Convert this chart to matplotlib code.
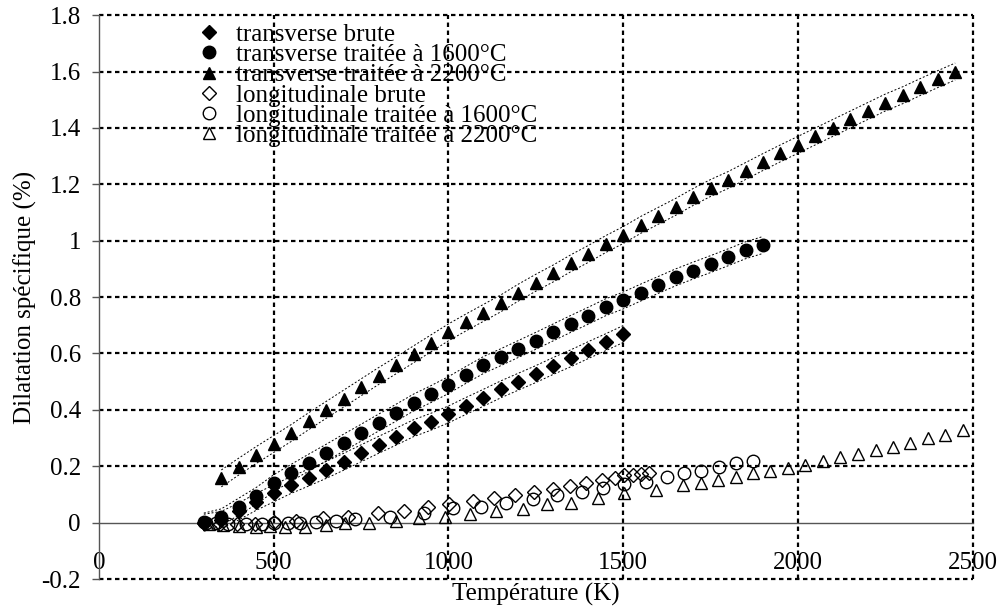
import matplotlib
matplotlib.use("Agg")
import matplotlib.pyplot as plt
import numpy as np

plt.rcParams['font.family'] = ['Liberation Serif', 'DejaVu Serif']

# --- data ---
# transverse, filled markers
tr_brute_T = [300, 350, 400, 450, 500, 550, 600, 650, 700, 750, 800, 850, 900,
              950, 1000, 1050, 1100, 1150, 1200, 1250, 1300, 1350, 1400, 1450, 1500]
tr_brute_y = [0.0, 0.01, 0.04, 0.074, 0.104, 0.134, 0.16, 0.187, 0.216, 0.246,
              0.276, 0.305, 0.335, 0.358, 0.384, 0.414, 0.443, 0.473, 0.5, 0.527,
              0.556, 0.583, 0.612, 0.64, 0.669]

tr_1600_T = [300, 350, 400, 450, 500, 550, 600, 650, 700, 750, 800, 850, 900,
             950, 1000, 1050, 1100, 1150, 1200, 1250, 1300, 1350, 1400, 1450,
             1500, 1550, 1600, 1650, 1700, 1750, 1800, 1850, 1900]
tr_1600_y = [0.004, 0.019, 0.057, 0.095, 0.14, 0.177, 0.213, 0.248, 0.284, 0.319,
             0.355, 0.39, 0.426, 0.456, 0.488, 0.524, 0.559, 0.587, 0.616, 0.645,
             0.675, 0.705, 0.734, 0.764, 0.788, 0.816, 0.843, 0.87, 0.894, 0.917,
             0.941, 0.966, 0.985]

tr_2200_T = [350, 400, 450, 500, 550, 600, 650, 700, 750, 800, 850, 900, 950,
             1000, 1050, 1100, 1150, 1200, 1250, 1300, 1350, 1400, 1450, 1500,
             1550, 1600, 1650, 1700, 1750, 1800, 1850, 1900, 1950, 2000, 2050,
             2100, 2150, 2200, 2250, 2300, 2350, 2400, 2450]
tr_2200_y = [0.157, 0.199, 0.24, 0.279, 0.318, 0.36, 0.40, 0.44, 0.48, 0.52,
             0.558, 0.597, 0.636, 0.675, 0.71, 0.744, 0.778, 0.816, 0.851, 0.884,
             0.92, 0.953, 0.988, 1.02, 1.056, 1.088, 1.12, 1.155, 1.187, 1.215,
             1.247, 1.279, 1.31, 1.34, 1.37, 1.40, 1.43, 1.46, 1.49, 1.516,
             1.545, 1.573, 1.60]

# longitudinal, open markers
lo_brute_T = [300, 345, 395, 445, 500, 565, 642, 713, 799, 872, 942, 1002, 1070,
              1130, 1190, 1244, 1298, 1347, 1393, 1438, 1476, 1502, 1528, 1552, 1574]
lo_brute_y = [0.0, -0.004, -0.006, -0.003, 0.002, 0.007, 0.016, 0.021, 0.033,
              0.043, 0.057, 0.066, 0.078, 0.087, 0.099, 0.11, 0.118, 0.13, 0.142,
              0.15, 0.158, 0.17, 0.17, 0.174, 0.177]

lo_1600_T = [305, 335, 370, 420, 465, 500, 541, 575, 621, 678, 732, 832, 930,
             1013, 1092, 1166, 1241, 1311, 1381, 1443, 1502, 1566, 1624, 1673,
             1724, 1774, 1822, 1872]
lo_1600_y = [0.0, 0.0, -0.004, -0.006, -0.004, 0.0, 0.0, 0.0, 0.004, 0.007,
             0.012, 0.021, 0.035, 0.051, 0.055, 0.071, 0.083, 0.098, 0.11, 0.122,
             0.136, 0.146, 0.161, 0.175, 0.184, 0.196, 0.21, 0.22]

lo_2200_T = [315, 355, 400, 450, 490, 532, 589, 649, 704, 773, 850, 916, 990,
             1063, 1136, 1212, 1281, 1352, 1428, 1502, 1595, 1671, 1724, 1771,
             1822, 1872, 1921, 1972, 2021, 2072, 2121, 2172, 2223, 2272, 2322,
             2372, 2420, 2472]
lo_2200_y = [-0.006, -0.01, -0.013, -0.014, -0.012, -0.014, -0.014, -0.008,
             -0.002, 0.0, 0.007, 0.016, 0.019, 0.03, 0.04, 0.048, 0.065, 0.071,
             0.087, 0.104, 0.115, 0.134, 0.142, 0.151, 0.161, 0.175, 0.184, 0.193,
             0.206, 0.218, 0.232, 0.245, 0.258, 0.27, 0.282, 0.3, 0.311, 0.329]

labels = ["transverse brute",
          "transverse traitée à 1600°C",
          "transverse traitée à 2200°C",
          "longitudinale brute",
          "longitudinale traitée à 1600°C",
          "longitudinale traitée à 2200°C"]

x_ticks = [0, 500, 1000, 1500, 2000, 2500]
y_ticks = [-0.2, 0, 0.2, 0.4, 0.6, 0.8, 1, 1.2, 1.4, 1.6, 1.8]
y_ticklabels = ["-0.2", "0", "0.2", "0.4", "0.6", "0.8", "1", "1.2", "1.4", "1.6", "1.8"]

FS = 18

# --- figure ---
fig = plt.figure(figsize=(10.01, 6.10), dpi=100)
ax = fig.add_axes([0.0989, 0.0507, 0.9717 - 0.0989, 0.9752 - 0.0507])
ax.set_xlim(0, 2500)
ax.set_ylim(-0.2, 1.8)

# dotted grid (drawn by hand so that the edges at 1.8 / 2500 are not clipped)
grid_kw = dict(color="black", lw=1.6, linestyle=(0, (2, 1.6)), clip_on=False, zorder=1)
for yv in y_ticks:
    if yv != 0:
        ax.axhline(yv, **grid_kw)
for xv in x_ticks:
    if xv != 0:
        ax.axvline(xv, **grid_kw)

# envelope lines around the transverse series
band = 0.03
band_kw = dict(color="black", lw=0.7, linestyle=(0, (2, 2)), zorder=2)
for T, y in [(tr_brute_T, tr_brute_y), (tr_1600_T, tr_1600_y), (tr_2200_T, tr_2200_y)]:
    ax.plot(T, np.array(y) + band, **band_kw)
    ax.plot(T, np.array(y) - band, **band_kw)

filled = dict(linestyle="none", color="black", zorder=4)
ax.plot(tr_brute_T, tr_brute_y, marker="D", ms=7.5, label=labels[0], **filled)
ax.plot(tr_1600_T, tr_1600_y, marker="o", ms=9, label=labels[1], **filled)
ax.plot(tr_2200_T, tr_2200_y, marker="^", ms=9, label=labels[2], **filled)

opened = dict(linestyle="none", color="black", mfc="none", mew=1.0, zorder=3)
ax.plot(lo_brute_T, lo_brute_y, marker="D", ms=7.5, label=labels[3], **opened)
ax.plot(lo_1600_T, lo_1600_y, marker="o", ms=9, label=labels[4], **opened)
ax.plot(lo_2200_T, lo_2200_y, marker="^", ms=9, label=labels[5], **opened)

# axes in the Excel style: x axis crosses at y = 0
for s in ["top", "right"]:
    ax.spines[s].set_visible(False)
ax.spines["bottom"].set_position(("data", 0))
ax.spines["bottom"].set_color("#555555")
ax.spines["left"].set_color("#555555")
ax.spines["bottom"].set_linewidth(1.0)
ax.spines["left"].set_linewidth(1.0)

ax.set_xticks(x_ticks)
ax.set_yticks(y_ticks)
ax.set_yticklabels(y_ticklabels)
ax.tick_params(axis="y", direction="out", length=5, width=1, color="#555555",
               pad=8, labelsize=FS)
ax.tick_params(axis="x", direction="out", length=0, pad=21, labelsize=FS)

ax.set_xlabel("Température (K)", fontsize=FS)
ax.set_ylabel("Dilatation spécifique (%)", fontsize=FS, labelpad=3)
ax.xaxis.set_label_coords(0.5, -0.006)

ax.legend(loc="upper left", bbox_to_anchor=(0.1, 1.003), frameon=False,
          fontsize=FS, numpoints=1, handlelength=1.0, handletextpad=0.6,
          labelspacing=-0.09, borderaxespad=0.0)

fig.savefig("out.png", dpi=100)
